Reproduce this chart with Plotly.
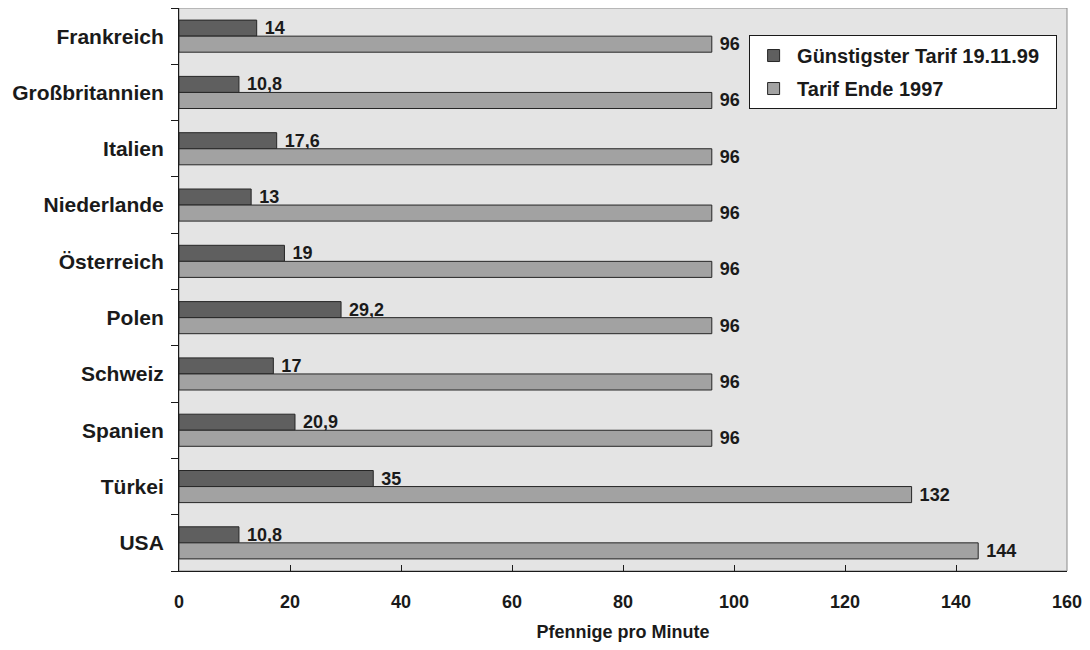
import plotly.graph_objects as go

laender = ["Frankreich", "Großbritannien", "Italien", "Niederlande", "Österreich",
           "Polen", "Schweiz", "Spanien", "Türkei", "USA"]
guenstigster = [14, 10.8, 17.6, 13, 19, 29.2, 17, 20.9, 35, 10.8]
ende_1997 = [96, 96, 96, 96, 96, 96, 96, 96, 132, 144]
x_ticks = [0, 20, 40, 60, 80, 100, 120, 140, 160]

def fmt(v):
    return ("%g" % v).replace(".", ",")

FONT = "Liberation Sans, Arial, sans-serif"
INK = "#1a1a1a"

fig = go.Figure()
fig.add_trace(go.Bar(
    y=laender, x=guenstigster, orientation="h",
    name="<b>Günstigster Tarif 19.11.99</b>\u00a0\u00a0", legendgroup="a",
    marker=dict(color="#5f5f5f", line=dict(color="#262626", width=1)),
    text=["\u00a0<b>%s</b>" % fmt(v) for v in guenstigster],
    textposition="outside", cliponaxis=False, constraintext="none",
    textfont=dict(family=FONT, size=18, color=INK),
))
fig.add_trace(go.Bar(
    y=laender, x=ende_1997, orientation="h",
    name="<b>Tarif Ende 1997</b>", legendgroup="b",
    marker=dict(color="#a2a2a2", line=dict(color="#262626", width=1)),
    text=["\u00a0<b>%s</b>" % fmt(v) for v in ende_1997],
    textposition="outside", cliponaxis=False, constraintext="none",
    textfont=dict(family=FONT, size=18, color=INK),
))

fig.update_layout(
    width=1074, height=634,
    barmode="group", bargap=0.43, bargroupgap=0,
    paper_bgcolor="white", plot_bgcolor="#e4e4e4",
    margin=dict(l=171, r=11, t=0, b=70),
    font=dict(family=FONT, size=18, color=INK),
    showlegend=True,
    legend=dict(
        x=0.642, y=0.952, xanchor="left", yanchor="top",
        bgcolor="white", bordercolor=INK, borderwidth=1,
        font=dict(family=FONT, size=20, color=INK),
        tracegroupgap=4, itemwidth=37,
    ),
    shapes=[dict(type="rect", xref="paper", yref="paper", x0=0, x1=1, y0=0, y1=1,
                 line=dict(color="#8a8a8a", width=1), layer="below")],
)
fig.update_xaxes(
    range=[0, 160], tickvals=x_ticks, ticktext=["<b>%d</b>" % v for v in x_ticks],
    showgrid=False, zeroline=False, showline=True, linecolor=INK, linewidth=1,
    ticks="inside", ticklen=6, tickcolor=INK, ticklabelstandoff=14,
    ticklabeloverflow="allow",
    tickfont=dict(family=FONT, size=18, color=INK),
    title=dict(text="<b>Pfennige pro Minute</b>", standoff=18,
               font=dict(family=FONT, size=18, color=INK)),
)
fig.update_yaxes(
    autorange="reversed", showgrid=False, showline=True, linecolor=INK, linewidth=1,
    ticks="outside", ticklen=7, tickcolor=INK, tickson="boundaries",
    ticklabelstandoff=10,
    tickvals=laender, ticktext=["<b>%s</b>" % c for c in laender],
    tickfont=dict(family=FONT, size=21, color=INK),
)

fig.write_html("out.html")
